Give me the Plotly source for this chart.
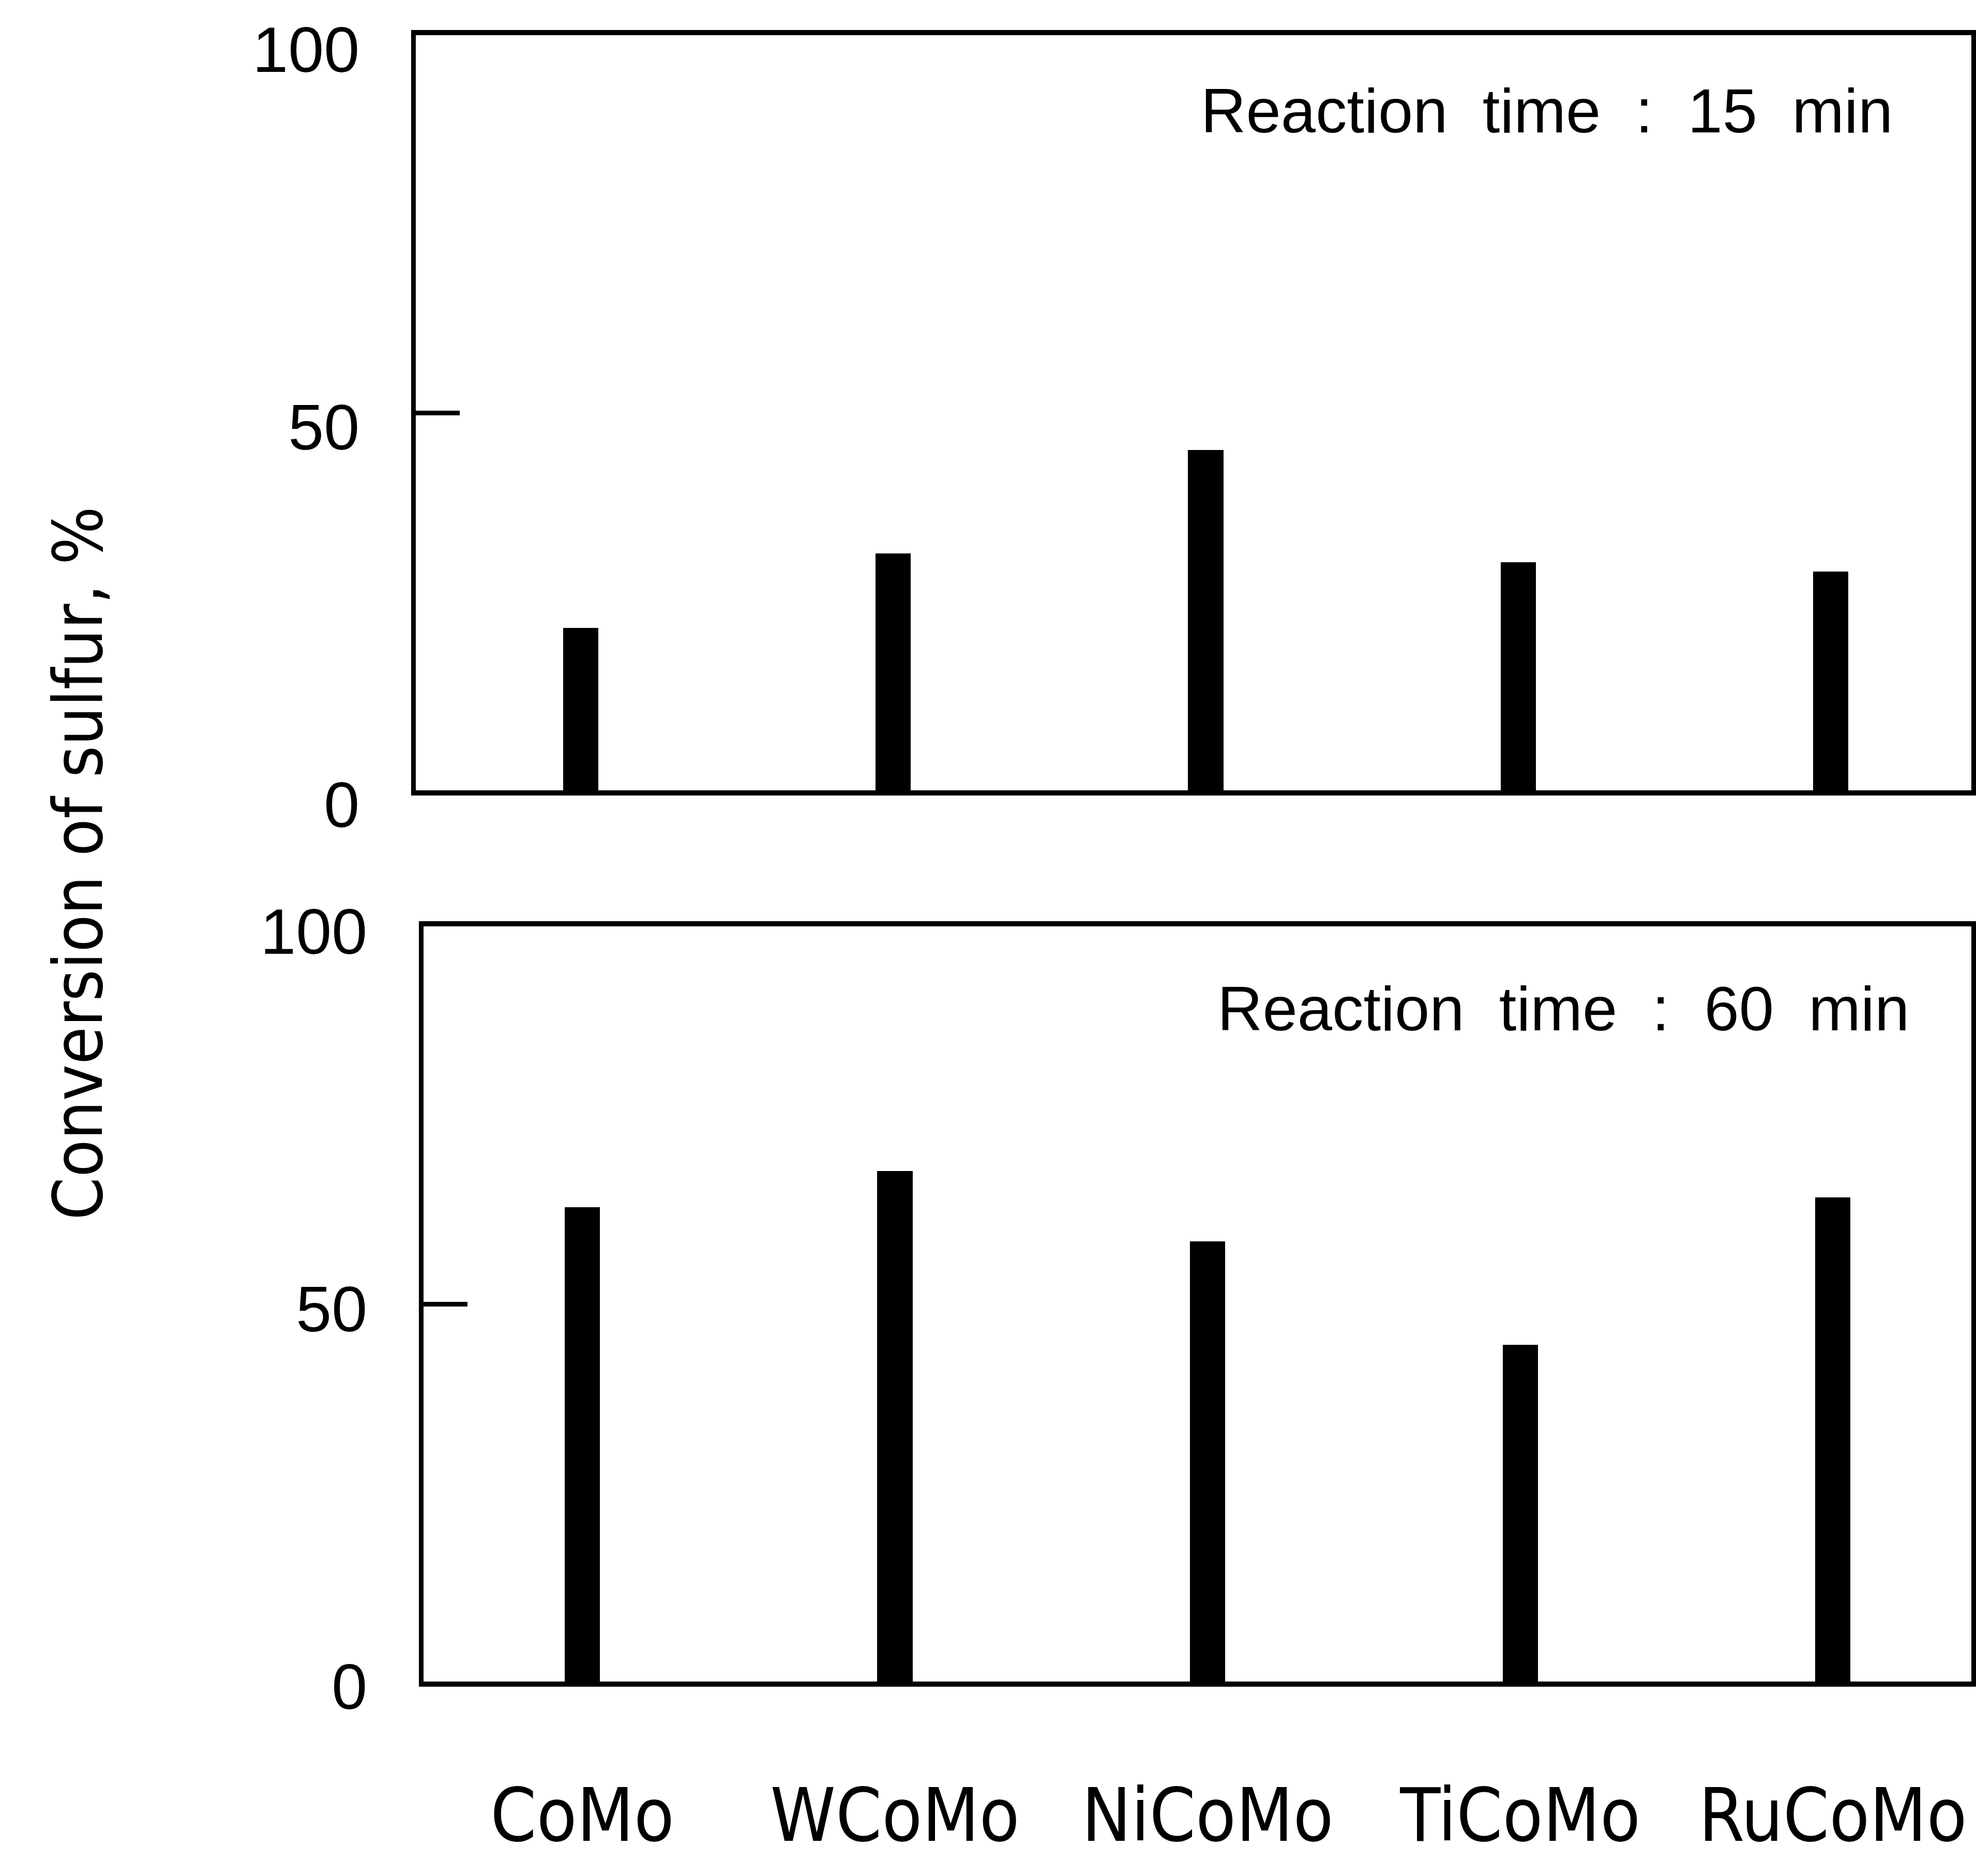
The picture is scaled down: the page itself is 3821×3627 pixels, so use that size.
import plotly.graph_objects as go

categories = ["CoMo", "WCoMo", "NiCoMo", "TiCoMo", "RuCoMo"]
conv_15min = [21.5, 31.4, 45.1, 30.2, 29.0]
conv_60min = [62.8, 67.6, 58.3, 44.6, 64.1]
y_ticks = [0, 50, 100]
y_title = "Conversion of sulfur, %"
panel_labels = ["Reaction time : 15 min", "Reaction time : 60 min"]

W, H = 3821, 3627
narrow = "Liberation Sans Narrow, Arial Narrow, DejaVu Sans Condensed, sans-serif"
regular = "Liberation Sans, Arial, sans-serif"

fig = go.Figure()
fig.add_trace(go.Bar(x=categories, y=conv_15min, width=0.113,
                     marker=dict(color="black", line=dict(width=0)),
                     xaxis="x", yaxis="y", showlegend=False))
fig.add_trace(go.Bar(x=categories, y=conv_60min, width=0.113,
                     marker=dict(color="black", line=dict(width=0)),
                     xaxis="x2", yaxis="y2", showlegend=False))

def yax(domain, anchor, shift):
    return dict(domain=domain, anchor=anchor, range=[0, 100], tickvals=y_ticks,
                ticks="inside", ticklen=85, tickwidth=9, tickcolor="black",
                showline=True, mirror=True, linewidth=9, linecolor="black",
                showgrid=False, zeroline=False, ticklabelstandoff=75,
                ticklabelshift=shift,
                automargin=False, ticklabeloverflow="allow",
                tickfont=dict(family=regular, size=124, color="black"))

def xax(domain, anchor, rng, labels):
    return dict(domain=domain, anchor=anchor, range=rng, type="category",
                showline=True, mirror=True, linewidth=10, linecolor="black",
                showgrid=False, zeroline=False, ticks="",
                showticklabels=labels, ticklabelstandoff=128,
                automargin=False, ticklabeloverflow="allow",
                tickfont=dict(family=narrow, size=142, color="black"))

fig.update_layout(
    width=W, height=H,
    margin=dict(l=0, r=0, t=0, b=0, autoexpand=False),
    paper_bgcolor="white", plot_bgcolor="white",
    bargap=0,
    xaxis=xax([804 / W, 3812 / W], "y", [-0.528, 4.45], False),
    yaxis=yax([1 - 1528 / H, 1 - 68 / H], "x", 28),
    xaxis2=xax([819 / W, 3812 / W], "y2", [-0.508, 4.443], True),
    yaxis2=yax([1 - 3251 / H, 1 - 1791 / H], "x2", 10),
    annotations=[
        dict(text=panel_labels[0].replace(" ", "\u00a0\u00a0"), xref="paper", yref="paper",
             x=2320 / W, y=1 - 214 / H, xanchor="left", yanchor="middle", showarrow=False,
             font=dict(family=regular, size=121, color="black")),
        dict(text=panel_labels[1].replace(" ", "\u00a0\u00a0"), xref="paper", yref="paper",
             x=2352 / W, y=1 - 1950 / H, xanchor="left", yanchor="middle", showarrow=False,
             font=dict(family=regular, size=121, color="black")),
        dict(text=y_title, xref="paper", yref="paper", textangle=-90,
             x=151 / W, y=1 - 1669 / H, xanchor="center", yanchor="middle", showarrow=False,
             font=dict(family=narrow, size=132, color="black")),
    ],
)

fig.write_html("out.html")
